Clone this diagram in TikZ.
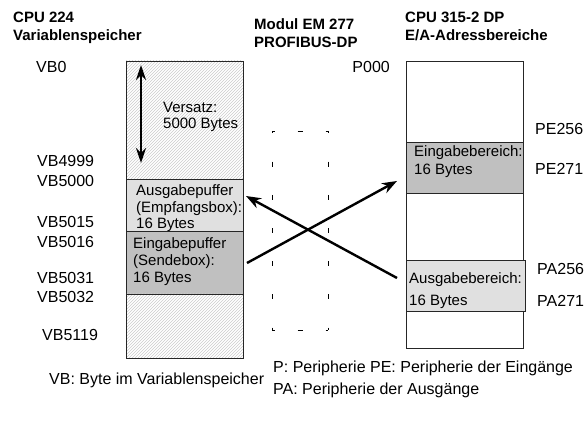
\documentclass[tikz,border=0pt]{standalone}
\usepackage{fontspec}
\setmainfont{Liberation Sans}
\usetikzlibrary{arrows.meta,patterns}
\definecolor{outgray}{HTML}{E0E0E0}
\definecolor{ingray}{HTML}{C0C0C0}
\tikzset{
  region/.style={draw=black!85, line width=0.9pt, anchor=north west,
    inner sep=0pt, outer sep=0pt, minimum width=117pt},
  hatched/.style={pattern=north east lines, pattern color=black!20},
  boxtxt/.style={anchor=base west, inner sep=0pt, font=\fontsize{15}{17}\selectfont},
  addr/.style={anchor=base west, inner sep=0pt, font=\fontsize{16}{18}\selectfont},
  heading/.style={anchor=base west, inner sep=0pt, font=\fontsize{15}{17}\selectfont\bfseries},
  flow/.style={line width=2.4pt, -{Stealth[length=15pt,width=11pt]}},
}
\begin{document}
\begin{tikzpicture}[x=1pt,y=-1pt]
\useasboundingbox (0,0) rectangle (584,430);
% headings
\node[heading] (h1a) at (13,23) {CPU 224};
\node[heading] (h1b) at (13,40.5) {Variablenspeicher};
\node[heading] (h2a) at (254,30) {Modul EM 277};
\node[heading] (h2b) at (254,47.5) {PROFIBUS-DP};
\node[heading] (h3a) at (405,23) {CPU 315-2 DP};
\node[heading] (h3b) at (405,40.5) {E/A-Adressbereiche};
% variable memory of the CPU 224
\node[region, hatched, minimum height=118pt] (offs) at (126,61) {};
\node[region, fill=outgray, minimum height=52pt] (recvbox) at (126,179) {};
\node[boxtxt] (r1) at (136,195.4) {Ausgabepuffer};
\node[boxtxt] (r2) at (136,212.4) {(Empfangsbox):};
\node[boxtxt] (r3) at (136,228.4) {16 Bytes};
\node[region, fill=ingray, minimum height=63pt] (sendbox) at (126,231) {};
\node[region, hatched, minimum height=64pt] (rest) at (126,294) {};
\node[boxtxt] (o1) at (163,112.4) {Versatz:};
\node[boxtxt] (o2) at (163,128.4) {5000 Bytes};
\node[boxtxt] (s1) at (133,248.4) {Eingabepuffer};
\node[boxtxt] (s2) at (133,266) {(Sendebox):};
\node[boxtxt] (s3) at (133,282.7) {16 Bytes};
\coordinate (vtop) at (141,65);
\coordinate (vbot) at (141,163);
\draw[line width=2.4pt, {Stealth[length=15pt,width=10pt]}-{Stealth[length=15pt,width=10pt]}] (vtop) -- (vbot);
% addresses VB
\node[addr] (vb0) at (36,72.7) {VB0};
\node[addr] (vb4999) at (37,166.7) {VB4999};
\node[addr] (vb5000) at (37,186.7) {VB5000};
\node[addr] (vb5015) at (37,227.7) {VB5015};
\node[addr] (vb5016) at (37,247.7) {VB5016};
\node[addr] (vb5031) at (37,283.7) {VB5031};
\node[addr] (vb5032) at (37,302.7) {VB5032};
\node[addr] (vb5119) at (42,340.7) {VB5119};
% module EM 277
\coordinate (dpnw) at (272,131);
\coordinate (dpne) at (328,131);
\coordinate (dpsw) at (272,330);
\coordinate (dpse) at (328,330);
\draw[line width=0.9pt, dash pattern=on 5pt off 23pt, dash phase=2.5pt] (dpnw) -- (dpne);
\draw[line width=0.9pt, dash pattern=on 5pt off 23pt, dash phase=2.5pt] (dpsw) -- (dpse);
\draw[line width=0.9pt, dash pattern=on 5pt off 28.17pt, dash phase=2.5pt] (dpnw) -- (dpsw);
\draw[line width=0.9pt, dash pattern=on 5pt off 28.17pt, dash phase=2.5pt] (dpne) -- (dpse);
% I/O areas of the CPU 315-2 DP
\node[region, minimum height=81pt] (p0) at (406,61) {};
\node[region, fill=ingray, minimum height=51pt] (inarea) at (406,142) {};
\node[region, minimum height=67pt] (p1) at (406,193) {};
\node[region, fill=outgray, minimum height=51pt, minimum width=119pt] (outarea) at (406,260) {};
\node[region, minimum height=37pt] (p2) at (406,311) {};
\node[boxtxt] (i1) at (414,156.4) {Eingabebereich:};
\node[boxtxt] (i2) at (414,174.4) {16 Bytes};
\node[boxtxt] (a1) at (409,283.4) {Ausgabebereich:};
\node[boxtxt] (a2) at (409,305.4) {16 Bytes};
\node[addr, anchor=base east] (p000) at (390,72.4) {P000};
\node[addr] (pe256) at (535,134.7) {PE256};
\node[addr] (pe271) at (535,174.7) {PE271};
\node[addr] (pa256) at (537,275) {PA256};
\node[addr] (pa271) at (537,306.7) {PA271};
% data flow
\coordinate (sendout) at (247,263);
\coordinate (inend) at (397,181);
\coordinate (outstart) at (397,278);
\coordinate (recvin) at (246,196);
\draw[flow] (sendout) -- (inend);
\draw[flow] (outstart) -- (recvin);
% legend
\node[addr] (leg1) at (49,384.5) {VB: Byte im Variablenspeicher};
\node[addr] (leg2) at (273,372.4) {P: Peripherie PE: Peripherie der Eingänge};
\node[addr] (leg3) at (273,395) {PA: Peripherie der Ausgänge};
\end{tikzpicture}
\end{document}
